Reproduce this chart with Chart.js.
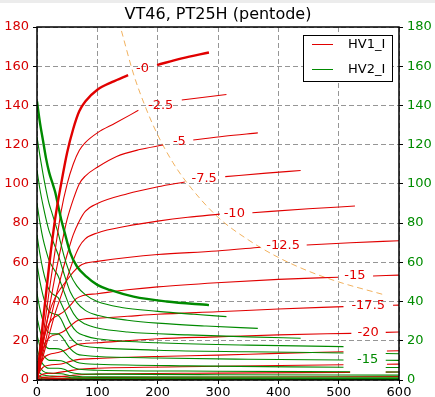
<!DOCTYPE html>
<html>
<head>
<meta charset="utf-8">
<script src="https://cdn.jsdelivr.net/npm/chart.js@4.4.1/dist/chart.umd.min.js"></script>
<style>
  html, body { margin: 0; padding: 0; background: #fff; }
  #wrap { width: 435px; height: 397px; }
</style>
</head>
<body>
<div id="wrap"><canvas id="tubeChart" width="435" height="397"></canvas></div>
<script>
// grid voltage of each curve pair (0 .. -32.5 V)
const gridLabels = ['-0', '-2.5', '-5', '-7.5', '-10', '-12.5', '-15', '-17.5',
                    '-20', '-22.5', '-25', '-27.5', '-30', '-32.5'];

// axis ticks
const xTicks = [0, 100, 200, 300, 400, 500, 600];
const yTicks = [0, 20, 40, 60, 80, 100, 120, 140, 160, 180];

// HV1_I (anode current, mA) vs anode voltage, [V, mA]; null = label gap
const plateCurves = [
  [[0,0],[10,30],[20,58],[30,82],[40,100],[50,116],[60,128],[70,137],[80,142],[100,148],[125,152],[151,155.5],[175,null],[199,160.6],[240,164],[285,167]],
  [[0,0],[10,22],[20,45],[30,66],[40,86],[50,100],[60,110],[70,117],[80,121],[100,126],[130,131],[168,137.5],[200,null],[240,142.8],[314,145.6]],
  [[0,0],[10,18],[20,36],[30,53],[40,68],[50,82],[60,92],[70,100],[80,104],[100,108.5],[132,114],[170,117.5],[209,119.8],[235,null],[259,122.4],[310,124.3],[366,126]],
  [[0,0],[10,14],[20,28],[30,41],[40,53],[50,64],[60,74],[70,81],[80,86],[100,90],[150,95],[200,98.5],[245,101],[280,null],[312,103.7],[380,105.5],[437,106.8]],
  [[0,0],[10,12],[20,23],[30,34],[40,43],[50,52],[60,61],[70,68],[80,72],[100,75],[150,78.5],[200,81],[250,83],[303,84.6],[330,null],[357,85.3],[450,87.3],[527,88.7]],
  [[0,0],[10,20],[20,34],[30,42],[40,47],[50,51],[60,55],[70,58],[80,59.5],[100,60.5],[150,62.5],[200,64],[298,65.8],[370,67.7],[410,null],[447,68.8],[520,70],[600,71]],
  [[0,0],[8,16],[16,26],[25,31],[35,33],[45,35],[55,38],[65,41.5],[75,43],[100,44],[150,46],[200,47.5],[298,49.6],[400,51.3],[499,52.4],[530,null],[557,53],[600,53.5]],
  [[0,0],[6,12],[14,19],[22,22],[35,23.5],[45,25],[55,27.5],[65,30],[75,31],[100,31.5],[150,32.5],[200,33.5],[298,34.8],[400,36.2],[508,37.4],[550,null],[590,38.1],[600,38.2]],
  [[0,0],[5,7],[12,11.5],[20,13],[35,14],[45,15],[55,16.5],[65,18],[75,18.5],[100,19],[200,21],[298,22],[400,23],[521,23.8],[550,null],[578,24.3],[600,24.5]],
  [[0,0],[4,4],[10,6.5],[20,7.5],[40,8.2],[55,9.5],[70,10.5],[100,11],[200,12],[300,12.7],[400,13.6],[508,14.4],[545,null],[580,14.8],[600,14.9]],
  [[0,0],[4,2],[10,3],[30,3.6],[50,4.5],[70,5.5],[100,6],[300,7],[508,7.8],[545,null],[580,8],[600,8.1]],
  [[0,0],[5,1],[20,1.5],[50,2],[70,2.7],[100,3],[300,3.5],[519,3.9],[550,null],[578,4],[600,4.1]],
  [[0,0],[10,0.5],[60,1],[100,1.3],[600,1.7]],
  [[0,0],[60,0.3],[600,0.5]]
];

// HV2_I (screen current, mA) vs anode voltage, [V, mA]
const screenCurves = [
  [[0,142],[5,131],[10,122],[15,113],[20,106],[25,101],[30,96],[35,89],[40,82],[46,75],[55,65],[66,58],[82,52.7],[100,48.5],[121,45.9],[160,42.5],[215,40],[285,38.2]],
  [[0,124],[5,114],[10,105],[15,97],[20,90],[25,85],[30,80],[35,75],[40,69],[46,62],[55,54],[66,48],[80,43.5],[100,40],[140,37],[200,35],[260,33.5],[314,32.3]],
  [[0,107],[5,97],[10,89],[15,82],[20,76],[25,72],[30,68],[35,64],[40,59],[46,53],[55,45],[66,39.5],[80,35.5],[100,33],[150,30.5],[200,29],[280,27.5],[366,26.3]],
  [[0,90],[5,80],[10,72],[15,66],[20,61],[25,58],[30,55.5],[35,53],[40,49],[46,44],[55,37],[66,31.5],[80,28.5],[100,26.5],[150,24.5],[250,23],[350,22],[437,21.3]],
  [[0,74],[5,64],[10,56],[15,50],[20,46],[25,44],[30,43],[35,42],[40,39],[46,35],[55,29],[66,24.5],[80,22.5],[100,21],[200,19],[350,17.8],[508,17]],
  [[0,59],[5,50],[10,43],[15,38],[20,35],[25,34],[30,33.5],[35,33],[40,31],[46,27],[55,22],[66,18.5],[80,17.2],[100,16.5],[200,15.2],[350,14.4],[508,13.8],[545,null],[578,13.5],[600,13.4]],
  [[0,44],[5,36],[10,30],[15,26],[20,24],[25,23.5],[35,23.5],[40,22.5],[46,20],[55,16],[66,13.3],[80,12.5],[100,12],[200,11.2],[350,10.6],[508,10.2],[545,null],[578,10.1],[600,10]],
  [[0,32],[5,25],[10,20],[15,17],[20,16],[30,16],[40,15.5],[46,14],[55,11],[66,9],[80,8.3],[100,8],[250,7.2],[508,6.5],[545,null],[578,6.4],[600,6.4]],
  [[0,23],[5,17],[10,13],[15,11],[20,10],[30,10],[40,9.8],[50,8.5],[60,6.5],[70,5.5],[100,5],[300,4.5],[519,4.2],[550,null],[578,4.1],[600,4.1]],
  [[0,16],[5,11],[10,8],[20,6],[35,6],[45,5.5],[55,4],[70,3.2],[100,3],[300,2.7],[600,2.5]],
  [[0,10],[5,6.5],[10,4.5],[20,3.5],[40,3.2],[55,2.2],[70,1.8],[100,1.6],[600,1.4]],
  [[0,6],[5,3.5],[10,2.5],[25,2],[45,1.7],[60,1.1],[100,0.9],[600,0.8]],
  [[0,3],[5,1.8],[15,1.1],[50,0.8],[70,0.5],[600,0.4]],
  [[0,1.5],[10,0.6],[60,0.3],[600,0.2]]
];

// max anode dissipation line
const powerLimit = [[140,178],[160,156],[180,139],[200,125],[225,111],[250,100],[300,83],[350,71.5],[400,62.5],[450,55.5],[500,50],[575,43.5]];

// inline curve labels [text, V, mA]
const plateTags = [['-0',175,159],['-2.5',205,140],['-5',236,121.4],['-7.5',277,102.5],
                   ['-10',327,84.6],['-12.5',408,68.3],['-15',527,53],['-17.5',549,37.7],['-20',549,24.4]];
const screenTags = [['-15',548,10.2]];

const RED = 'rgb(225,0,0)';
const GREEN = 'rgb(0,138,0)';
const FONT = '"DejaVu Sans", sans-serif';

function toPoints(arr) {
    return arr.map(p => ({ x: p[0], y: p[1] }));
}

let datasets = [];
gridLabels.forEach((g, i) => {
    datasets.push({
        label: i === 0 ? 'HV1_I' : 'HV1_I ' + g,
        data: toPoints(plateCurves[i]),
        borderColor: RED,
        borderWidth: i === 0 ? 2.4 : 1.1,
        yAxisID: 'y'
    });
    datasets.push({
        label: i === 0 ? 'HV2_I' : 'HV2_I ' + g,
        data: toPoints(screenCurves[i]),
        borderColor: GREEN,
        borderWidth: i === 0 ? 2.4 : 1.1,
        yAxisID: 'y'
    });
});
datasets.push({
    label: 'Pa max',
    data: toPoints(powerLimit),
    borderColor: 'rgb(242,178,95)',
    borderWidth: 1,
    borderDash: [6, 4],
    yAxisID: 'y'
});

// title, frame, inline labels and legend
const decorations = {
    id: 'decorations',
    beforeDraw(chart) {
        const ctx = chart.ctx;
        ctx.save();
        ctx.fillStyle = '#fff';
        ctx.fillRect(0, 0, chart.width, chart.height);
        ctx.fillStyle = '#ececec';
        ctx.fillRect(0, 0, chart.width, 3);
        ctx.restore();
    },
    afterDatasetsDraw(chart) {
        const ctx = chart.ctx;
        const a = chart.chartArea;
        const xs = chart.scales.x, ys = chart.scales.y;
        ctx.save();
        ctx.font = '13px ' + FONT;
        ctx.textAlign = 'center';
        ctx.textBaseline = 'middle';
        ctx.fillStyle = RED;
        plateTags.forEach(t => ctx.fillText(t[0], xs.getPixelForValue(t[1]), ys.getPixelForValue(t[2])));
        ctx.fillStyle = GREEN;
        screenTags.forEach(t => ctx.fillText(t[0], xs.getPixelForValue(t[1]), ys.getPixelForValue(t[2])));

        // frame
        ctx.strokeStyle = '#000';
        ctx.lineWidth = 1.5;
        ctx.strokeRect(a.left, a.top, a.right - a.left, a.bottom - a.top);

        // title
        ctx.fillStyle = '#000';
        ctx.font = '16px ' + FONT;
        ctx.textBaseline = 'middle';
        ctx.fillText('VT46, PT25H (pentode)', (a.left + a.right) / 2, 15);

        // legend
        const lx = a.right - 96, ly = a.top + 8;
        ctx.fillStyle = '#fff';
        ctx.fillRect(lx + 0.5, ly + 0.5, 89, 46);
        ctx.lineWidth = 1;
        ctx.strokeRect(lx + 0.5, ly + 0.5, 89, 46);
        [[RED, 'HV1_I', 9.5], [GREEN, 'HV2_I', 34.5]].forEach(e => {
            ctx.strokeStyle = e[0];
            ctx.beginPath();
            ctx.moveTo(lx + 9, ly + e[2]);
            ctx.lineTo(lx + 30, ly + e[2]);
            ctx.stroke();
            ctx.fillStyle = '#000';
            ctx.font = '13px ' + FONT;
            ctx.textAlign = 'left';
            ctx.fillText(e[1], lx + 45, ly + e[2]);
        });
        ctx.restore();
    }
};

const gridStyle = {
    color: 'rgb(150,150,150)',
    lineWidth: 1,
    tickColor: '#000',
    tickLength: 4,
    tickBorderDash: []
};

new Chart(document.getElementById('tubeChart'), {
    type: 'scatter',
    data: { datasets: datasets },
    options: {
        responsive: false,
        animation: false,
        devicePixelRatio: 1,
        layout: { padding: { top: 27, left: 0, right: 0, bottom: 0 } },
        elements: {
            point: { radius: 0, hoverRadius: 0 },
            line: { fill: false, tension: 0, cubicInterpolationMode: 'monotone' }
        },
        datasets: { scatter: { showLine: true, spanGaps: false } },
        plugins: {
            legend: { display: false },
            title: { display: false },
            tooltip: { enabled: false }
        },
        scales: {
            x: {
                type: 'linear',
                min: 0, max: 600,
                afterBuildTicks: s => { s.ticks = xTicks.map(v => ({ value: v })); },
                afterFit: s => { s.height = 17; },
                grid: gridStyle,
                border: { display: false, dash: [5, 3] },
                ticks: { color: '#000', font: { family: FONT, size: 13 }, padding: 1, maxRotation: 0 }
            },
            y: {
                type: 'linear',
                position: 'left',
                min: 0, max: 180,
                afterBuildTicks: s => { s.ticks = yTicks.map(v => ({ value: v })); },
                afterFit: s => { s.width = 37; },
                grid: gridStyle,
                border: { display: false, dash: [5, 3] },
                ticks: { color: 'rgb(215,0,0)', font: { family: FONT, size: 13 }, padding: 4 }
            },
            y2: {
                type: 'linear',
                position: 'right',
                min: 0, max: 180,
                afterBuildTicks: s => { s.ticks = yTicks.map(v => ({ value: v })); },
                afterFit: s => { s.width = 36; },
                grid: { drawOnChartArea: false, tickColor: '#000', tickLength: 4 },
                border: { display: false },
                ticks: { color: 'rgb(0,140,0)', font: { family: FONT, size: 13 }, padding: 4 }
            }
        }
    },
    plugins: [decorations]
});
</script>
</body>
</html>
